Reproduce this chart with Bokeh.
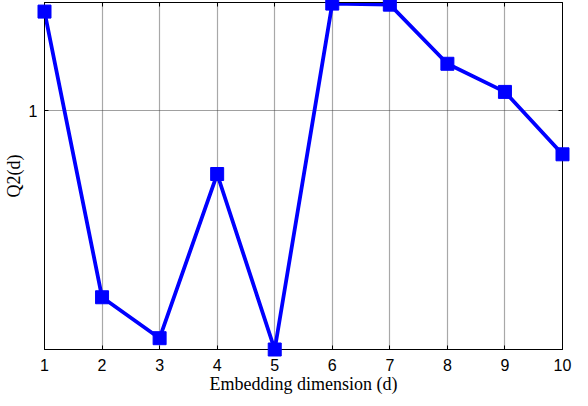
from bokeh.plotting import figure
from bokeh.models import (Range1d, LinearAxis, LogAxis, FixedTicker, CustomJSTickFormatter,
                          CustomLabelingPolicy)
from bokeh.embed import file_html
from bokeh.resources import INLINE

d = [1, 2, 3, 4, 5, 6, 7, 8, 9, 10]
q2 = [1.0448, 0.921, 0.9045, 0.9725, 0.900, 1.0485, 1.0480, 1.021, 1.0084, 0.981]
x_ticks = [1, 2, 3, 4, 5, 6, 7, 8, 9, 10]
y_ticks = [1]

p = figure(width=580, height=398, output_backend="svg", toolbar_location=None,
           y_axis_type="log", x_range=Range1d(1, 10), y_range=Range1d(0.900, 1.049),
           min_border_left=44, min_border_right=18, min_border_top=2, min_border_bottom=49)
p.background_fill_color = "white"
p.border_fill_color = "white"
p.outline_line_color = "black"
p.outline_line_width = 1

p.xaxis.ticker = FixedTicker(ticks=x_ticks)
p.yaxis.ticker = FixedTicker(ticks=y_ticks)
p.yaxis.major_label_overrides = {1: "1"}
for ax in (p.xaxis, p.yaxis):
    ax.axis_line_color = "black"
    ax.major_tick_in = 4
    ax.major_tick_out = 0
    ax.minor_tick_line_color = None
    ax.major_label_text_font = "Liberation Sans"
    ax.major_label_text_font_size = "16px"
    ax.major_label_text_color = "black"
    ax.axis_label_text_font = "Liberation Serif"
    ax.axis_label_text_font_style = "normal"
    ax.axis_label_text_font_size = "18px"
    ax.axis_label_text_color = "black"
p.xaxis.axis_label = "Embedding dimension (d)"
p.yaxis.axis_label = "Q2(d)"
p.xaxis.major_label_standoff = 9
p.xaxis.axis_label_standoff = 0
p.yaxis.major_label_standoff = 7
p.yaxis.axis_label_standoff = 2

blank = CustomJSTickFormatter(code="return ''")
no_labels = CustomLabelingPolicy(code="""
try { return new indices.constructor(indices.size, 0) } catch (e) { return indices }
""")
top = LinearAxis(ticker=FixedTicker(ticks=x_ticks), formatter=blank,
                 major_label_policy=no_labels,
                 major_tick_in=4, major_tick_out=0, minor_tick_line_color=None,
                 major_label_standoff=0)
p.add_layout(top, "above")
right = LogAxis(ticker=FixedTicker(ticks=y_ticks), formatter=blank,
                major_label_policy=no_labels,
                major_tick_in=4, major_tick_out=0, minor_tick_line_color=None,
                major_label_standoff=0)
p.add_layout(right, "right")

p.xgrid.ticker = FixedTicker(ticks=x_ticks)
p.ygrid.ticker = FixedTicker(ticks=y_ticks)
p.xgrid.grid_line_color = "#a8a8a8"
p.xgrid.grid_line_width = 1.2
p.ygrid.grid_line_color = "#404040"
p.ygrid.grid_line_dash = "1 1"
p.ygrid.grid_line_width = 1

p.line(d, q2, line_color="#0000ff", line_width=3.8)
p.scatter(d, q2, marker="square", size=13, fill_color="#0000ff", line_color="#0000ff",
          level="overlay")

open("out.html", "w").write(file_html(p, INLINE))
